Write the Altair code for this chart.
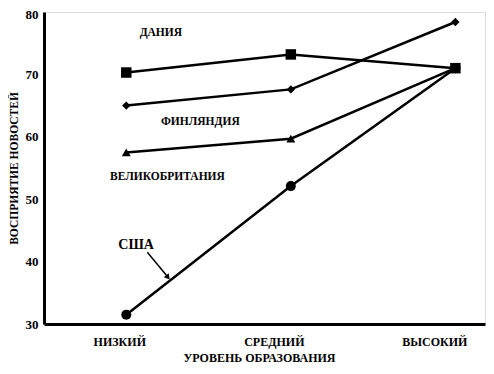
import json
import altair as alt
import pandas as pd

levels = ["НИЗКИЙ", "СРЕДНИЙ", "ВЫСОКИЙ"]
level_idx = [0, 1, 2]
y_ticks = [30, 40, 50, 60, 70, 80]
denmark = [70.3, 73.2, 71.0]
finland = [65.0, 67.6, 78.4]
uk = [57.5, 59.7, 71.0]
usa = [31.5, 52.1, 71.0]

series_names = ["Дания", "Финляндия", "Великобритания", "США"]
series_vals = [denmark, finland, uk, usa]
shapes = ["square", "diamond", "triangle-up", "circle"]
sizes = [110, 70, 80, 100]

# annotation labels (data units)
ann_text = ["ДАНИЯ", "ФИНЛЯНДИЯ", "ВЕЛИКОБРИТАНИЯ", "США"]
ann_x = [0.21, 0.45, 0.25, 0.06]
ann_y = [76.6, 62.3, 53.5, 42.6]
ann_size = [11.5, 11.5, 11.5, 14]

arrow_x = [0.128, 0.25]
arrow_y = [41.5, 37.6]

FONT = "Liberation Serif"

rows = []
for n, vals, sh, sz in zip(series_names, series_vals, shapes, sizes):
    for i, v in zip(level_idx, vals):
        rows.append({"series": n, "x": i, "y": v, "shape": sh, "size": sz})
df = pd.DataFrame(rows)

xscale = alt.Scale(domain=[-0.5, 2.18], nice=False, zero=False)
yscale = alt.Scale(domain=[30, 80], nice=False, zero=False)

label_expr = json.dumps(levels) + "[datum.value]"

x_label_off = {
    "condition": [
        {"test": "datum.value == 0", "value": -7},
        {"test": "datum.value == 1", "value": -17},
    ],
    "value": -21,
}
y_label_off = {
    "condition": {"test": "datum.value == 80", "value": 2},
    "value": 0,
}

xenc = alt.X("x:Q", scale=xscale, axis=alt.Axis(
    values=level_idx, labelExpr=label_expr, title="УРОВЕНЬ ОБРАЗОВАНИЯ",
    grid=False, ticks=False, domainWidth=3, domainColor="black",
    labelFont=FONT, labelFontWeight="bold", labelFontSize=12, labelColor="black",
    labelPadding=12, labelOffset=x_label_off,
    titleFont=FONT, titleFontWeight="bold", titleFontSize=12, titleColor="black",
    titlePadding=5, titleX=215))
yenc = alt.Y("y:Q", scale=yscale, axis=alt.Axis(
    values=y_ticks, title="ВОСПРИЯТИЕ НОВОСТЕЙ",
    grid=False, ticks=False, domainWidth=3, domainColor="black",
    labelFont=FONT, labelFontWeight="bold", labelFontSize=13, labelColor="black",
    labelPadding=6, labelOffset=y_label_off,
    titleFont=FONT, titleFontWeight="bold", titleFontSize=11.5, titleColor="black",
    titlePadding=6))

lines = alt.Chart(df).mark_line(color="black", strokeWidth=2.5).encode(
    x=xenc, y=yenc, detail="series:N")

points = alt.Chart(df).mark_point(filled=True, color="black", opacity=1).encode(
    x="x:Q", y="y:Q",
    shape=alt.Shape("shape:N", scale=None),
    size=alt.Size("size:Q", scale=None))

ann_df = pd.DataFrame({"t": ann_text, "x": ann_x, "y": ann_y, "s": ann_size})
ann = alt.Chart(ann_df).mark_text(font=FONT, fontWeight="bold", color="black",
                                   align="center", baseline="middle").encode(
    x="x:Q", y="y:Q", text="t:N", size=alt.Size("s:Q", scale=None))

arr_df = pd.DataFrame({"x": [arrow_x[0]], "y": [arrow_y[0]], "x2": [arrow_x[1]], "y2": [arrow_y[1]]})
arrow_line = alt.Chart(arr_df).mark_rule(color="black", strokeWidth=1.5).encode(
    x="x:Q", y="y:Q", x2="x2:Q", y2="y2:Q")
head_df = pd.DataFrame({"x": [arrow_x[1]], "y": [arrow_y[1]]})
arrow_head = alt.Chart(head_df).mark_point(shape="triangle", filled=True, color="black",
                                           opacity=1, size=40, angle=141).encode(
    x="x:Q", y="y:Q")

chart = alt.layer(lines, points, ann, arrow_line, arrow_head).properties(
    width=441, height=312,
    autosize=alt.AutoSizeParams(type="none"),
    padding={"left": 36, "top": 4, "right": 1, "bottom": 42},
).configure_view(stroke="black", strokeWidth=2.5).configure(background="white")

chart.save("out.html", embed_options={"renderer": "svg", "actions": False})
